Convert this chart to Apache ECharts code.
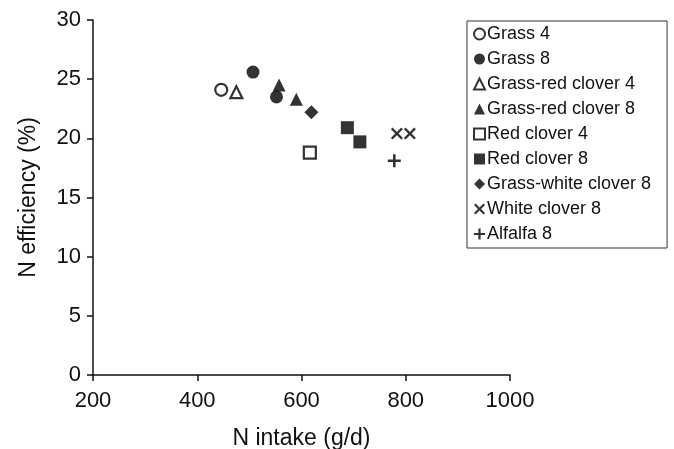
<!DOCTYPE html>
<html>
<head>
<meta charset="utf-8">
<script src="https://cdn.jsdelivr.net/npm/echarts@6/dist/echarts.min.js"></script>
<style>
  html, body { margin: 0; padding: 0; background: #fff; }
  #chart { width: 674px; height: 449px; }
</style>
</head>
<body>
<div id="chart"></div>
<script>
// data: [N intake (g/d), N efficiency (%)]
var names = ['Grass 4', 'Grass 8', 'Grass-red clover 4', 'Grass-red clover 8', 'Red clover 4',
             'Red clover 8', 'Grass-white clover 8', 'White clover 8', 'Alfalfa 8'];
var grass4 = [[446, 24.1]];
var grass8 = [[507, 25.6], [552, 23.5]];
var grassRed4 = [[475, 23.9]];
var grassRed8 = [[557, 24.5], [590, 23.3]];
var red4 = [[616, 18.8]];
var red8 = [[688, 20.9], [712, 19.7]];
var grassWhite8 = [[619, 22.2]];
var white8 = [[783, 20.4], [808, 20.4]];
var alfalfa8 = [[778, 18.1]];
var xTicks = [200, 400, 600, 800, 1000];
var yTicks = [0, 5, 10, 15, 20, 25, 30];

var crossPath = 'path://M0,1.4L1.4,0L5,3.6L8.6,0L10,1.4L6.4,5L10,8.6L8.6,10L5,6.4L1.4,10L0,8.6L3.6,5Z';
var plusPath = 'path://M4,0H6V4H10V6H6V10H4V6H0V4H4Z';
var FONT = 'Liberation Sans, Arial, sans-serif';

function series(name, data, symbol, size, open) {
    return {
        name: name,
        type: 'scatter',
        data: data,
        symbol: symbol,
        symbolSize: size,
        itemStyle: open ? { color: '#fff', borderColor: '#000', borderWidth: 2.2 }
                        : { color: '#000' },
        emphasis: { disabled: true }
    };
}

var myChart = echarts.init(document.getElementById('chart'));
var option = {
    animation: false,
    grid: { left: 93, right: 164, top: 20, bottom: 74, outerBoundsMode: 'none', containLabel: false },
    xAxis: {
        type: 'value',
        min: xTicks[0],
        max: xTicks[xTicks.length - 1],
        interval: 200,
        name: 'N intake (g/d)',
        nameLocation: 'middle',
        nameGap: 52,
        nameTextStyle: { color: '#111', fontSize: 23, fontFamily: FONT },
        splitLine: { show: false },
        axisLine: { lineStyle: { color: '#111', width: 1.5 } },
        axisTick: { length: 6, lineStyle: { color: '#111', width: 1.5 } },
        axisLabel: { color: '#111', fontSize: 22, fontFamily: FONT, margin: 15,
                     formatter: function (v) { return String(v); } }
    },
    yAxis: {
        type: 'value',
        min: yTicks[0],
        max: yTicks[yTicks.length - 1],
        interval: 5,
        name: 'N efficiency (%)',
        nameLocation: 'middle',
        nameGap: 53,
        nameTextStyle: { color: '#111', fontSize: 23, fontFamily: FONT },
        splitLine: { show: false },
        axisLine: { lineStyle: { color: '#111', width: 1.5 } },
        axisTick: { length: 6, lineStyle: { color: '#111', width: 1.5 } },
        axisLabel: { color: '#111', fontSize: 22, fontFamily: FONT, margin: 12 }
    },
    legend: {
        orient: 'vertical',
        left: 467,
        top: 21,
        padding: [3, 16, 4, 6],
        itemGap: 5,
        itemWidth: 11,
        itemHeight: 11,
        borderColor: '#333',
        borderWidth: 1,
        selectedMode: false,
        textStyle: { color: '#111', fontSize: 18, fontFamily: FONT, lineHeight: 20, padding: [0, 0, 0, -3] },
        data: names
    },
    series: [
        series(names[0], grass4, 'circle', 12, true),
        series(names[1], grass8, 'circle', 13, false),
        series(names[2], grassRed4, 'triangle', 12, true),
        series(names[3], grassRed8, 'triangle', 13, false),
        series(names[4], red4, 'rect', 12, true),
        series(names[5], red8, 'rect', 13, false),
        series(names[6], grassWhite8, 'diamond', 14, false),
        series(names[7], white8, crossPath, 12, false),
        series(names[8], alfalfa8, plusPath, 13, false)
    ]
};
myChart.setOption(option);
</script>
</body>
</html>
